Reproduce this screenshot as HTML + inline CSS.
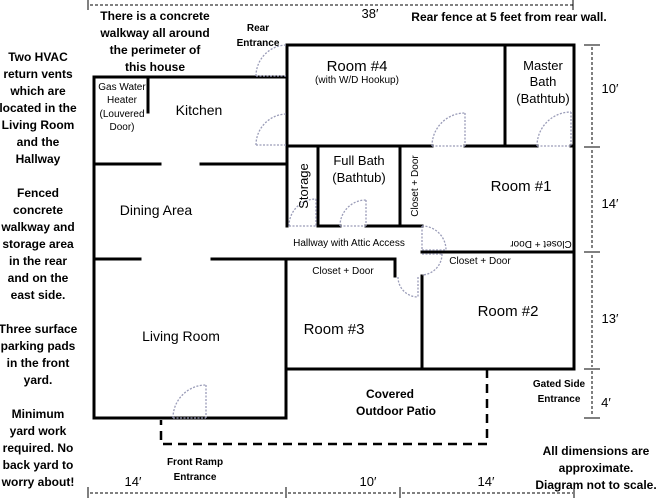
<!DOCTYPE html>
<html><head><meta charset="utf-8"><style>
body{margin:0;background:#fff;width:657px;height:498px;overflow:hidden}
svg{display:block}
text{font-family:"Liberation Sans",sans-serif;fill:#000}
.b{font-weight:bold}
</style></head><body>
<svg width="657" height="498" viewBox="0 0 657 498" xmlns="http://www.w3.org/2000/svg">
<g stroke="#000" stroke-width="3" fill="none" stroke-linecap="square">
<line x1="94" y1="77" x2="287" y2="77"/>
<line x1="94" y1="77" x2="94" y2="418"/>
<line x1="94" y1="418" x2="286" y2="418"/>
<line x1="148" y1="77" x2="148" y2="112"/>
<line x1="94" y1="164" x2="160" y2="164"/>
<line x1="201" y1="164" x2="287" y2="164"/>
<line x1="94" y1="259" x2="140" y2="259"/>
<line x1="212" y1="259" x2="395" y2="259"/>
<line x1="395" y1="259" x2="395" y2="276"/>
<line x1="287" y1="45" x2="287" y2="226"/>
<line x1="286" y1="259" x2="286" y2="418"/>
<line x1="287" y1="45" x2="574" y2="45"/>
<line x1="574" y1="45" x2="574" y2="369"/>
<line x1="505" y1="45" x2="505" y2="146"/>
<line x1="287" y1="146" x2="432" y2="146"/>
<line x1="465" y1="146" x2="537" y2="146"/>
<line x1="571" y1="146" x2="574" y2="146"/>
<line x1="318" y1="146" x2="318" y2="226"/>
<line x1="400" y1="146" x2="400" y2="226"/>
<line x1="318" y1="226" x2="340" y2="226"/>
<line x1="366" y1="226" x2="422" y2="226"/>
<line x1="422" y1="252" x2="574" y2="252"/>
<line x1="422" y1="276" x2="422" y2="369"/>
<line x1="286" y1="369" x2="574" y2="369"/>
</g>
<g stroke="#000" stroke-width="2.5" fill="none" stroke-dasharray="9,6">
<polyline points="487,369 487,444 161,444 161,420"/>
</g>
<g stroke="#9a9cb8" stroke-width="1.3" fill="none" stroke-dasharray="2,1.5">
<path d="M256,76 A31,31 0 0 1 287,45"/><line x1="256" y1="76" x2="287" y2="76"/>
<path d="M256,145 A31,31 0 0 1 287,114"/><line x1="256" y1="145" x2="287" y2="145"/>
<path d="M289,226 A27,27 0 0 1 316,199"/><line x1="289" y1="226" x2="316" y2="226"/><line x1="316" y1="199" x2="316" y2="226"/>
<path d="M340,226 A26,26 0 0 1 366,200"/><line x1="340" y1="226" x2="366" y2="226"/><line x1="366" y1="200" x2="366" y2="226"/>
<path d="M432,146 A33,33 0 0 1 465,113"/><line x1="432" y1="146" x2="465" y2="146"/><line x1="465" y1="113" x2="465" y2="146"/>
<path d="M537,146 A34,34 0 0 1 571,112"/><line x1="537" y1="146" x2="571" y2="146"/><line x1="571" y1="112" x2="571" y2="146"/>
<path d="M422,226 A24,24 0 0 1 446,250"/><line x1="422" y1="226" x2="422" y2="250"/><line x1="422" y1="250" x2="446" y2="250"/>
<path d="M442,254 A21,21 0 0 1 422,275"/><line x1="422" y1="254" x2="442" y2="254"/>
<path d="M398,277 A20,20 0 0 0 418,297"/><line x1="418" y1="277" x2="418" y2="297"/>
<path d="M173,418 A33,33 0 0 1 206,385"/><line x1="206" y1="385" x2="206" y2="418"/><line x1="173" y1="418" x2="206" y2="418"/>
</g>
<g stroke="#000" stroke-width="1" fill="none" stroke-dasharray="3,2">
<line x1="90" y1="5" x2="573" y2="5"/>
<line x1="592" y1="47" x2="592" y2="144"/>
<line x1="592" y1="150" x2="592" y2="250"/>
<line x1="592" y1="255" x2="592" y2="367"/>
<line x1="592" y1="371" x2="592" y2="416"/>
<line x1="90" y1="493" x2="284" y2="493"/>
<line x1="288" y1="493" x2="398" y2="493"/>
<line x1="402" y1="493" x2="573" y2="493"/>
</g>
<g stroke="#000" stroke-width="1">
<line x1="88" y1="0" x2="88" y2="10"/><line x1="573" y1="0" x2="573" y2="10"/>
<line x1="584" y1="45" x2="600" y2="45"/><line x1="584" y1="147" x2="600" y2="147"/>
<line x1="584" y1="252" x2="600" y2="252"/><line x1="584" y1="369" x2="600" y2="369"/>
<line x1="584" y1="418" x2="600" y2="418"/>
<line x1="88" y1="487" x2="88" y2="498"/><line x1="286" y1="487" x2="286" y2="498"/>
<line x1="400" y1="487" x2="400" y2="498"/><line x1="574" y1="487" x2="574" y2="498"/>
</g>
<g font-size="12" text-anchor="middle" class="b">
<text x="38" y="61" class="b">Two HVAC</text>
<text x="38" y="78" class="b">return vents</text>
<text x="38" y="95" class="b">which are</text>
<text x="38" y="112" class="b">located in the</text>
<text x="38" y="129" class="b">Living Room</text>
<text x="38" y="146" class="b">and the</text>
<text x="38" y="163" class="b">Hallway</text>
<text x="38" y="197" class="b">Fenced</text>
<text x="38" y="214" class="b">concrete</text>
<text x="38" y="231" class="b">walkway and</text>
<text x="38" y="248" class="b">storage area</text>
<text x="38" y="265" class="b">in the rear</text>
<text x="38" y="282" class="b">and on the</text>
<text x="38" y="299" class="b">east side.</text>
<text x="38" y="333" class="b">Three surface</text>
<text x="38" y="350" class="b">parking pads</text>
<text x="38" y="367" class="b">in the front</text>
<text x="38" y="384" class="b">yard.</text>
<text x="38" y="418" class="b">Minimum</text>
<text x="38" y="435" class="b">yard work</text>
<text x="38" y="452" class="b">required. No</text>
<text x="38" y="469" class="b">back yard to</text>
<text x="38" y="486" class="b">worry about!</text>
<text x="155" y="20" class="b">There is a concrete</text>
<text x="155" y="37" class="b">walkway all around</text>
<text x="155" y="54" class="b">the perimeter of</text>
<text x="155" y="71" class="b">this house</text>
<text x="509" y="21" class="b">Rear fence at 5 feet from rear wall.</text>
<text x="390" y="398" class="b">Covered</text>
<text x="396" y="415" class="b">Outdoor Patio</text>
<text x="596" y="455" class="b">All dimensions are</text>
<text x="596" y="472" class="b">approximate.</text>
<text x="596" y="489" class="b">Diagram not to scale.</text>
</g>
<g font-size="10" text-anchor="middle" class="b">
<text x="258" y="31" class="b">Rear</text>
<text x="258" y="46" class="b">Entrance</text>
<text x="559" y="387" class="b">Gated Side</text>
<text x="559" y="402" class="b">Entrance</text>
<text x="195" y="465" class="b">Front Ramp</text>
<text x="195" y="480" class="b">Entrance</text>
</g>
<g font-size="10" text-anchor="middle">
<text x="122" y="90">Gas Water</text>
<text x="122" y="103">Heater</text>
<text x="122" y="117">(Louvered</text>
<text x="122" y="130">Door)</text>
<text x="357" y="83">(with W/D Hookup)</text>
<text x="349" y="246">Hallway with Attic Access</text>
<text x="480" y="264">Closet + Door</text>
<text x="343" y="274">Closet + Door</text>
<text transform="translate(541,241) rotate(180)">Closet + Door</text>
<text transform="translate(418,186) rotate(-90)">Closet + Door</text>
</g>
<g font-size="14" text-anchor="middle">
<text x="199" y="115">Kitchen</text>
<text x="156" y="215">Dining Area</text>
<text x="181" y="341">Living Room</text>
<text x="357" y="71" font-size="15">Room #4</text>
<text x="543" y="70" font-size="13">Master</text>
<text x="543" y="86" font-size="13">Bath</text>
<text x="543" y="103" font-size="13">(Bathtub)</text>
<text x="359" y="165" font-size="13">Full Bath</text>
<text x="359" y="182" font-size="13">(Bathtub)</text>
<text transform="translate(308,186) rotate(-90)" font-size="13">Storage</text>
<text x="521" y="191" font-size="15">Room #1</text>
<text x="508" y="316" font-size="15">Room #2</text>
<text x="334" y="334" font-size="15">Room #3</text>
<text x="370" y="18" font-size="13">38′</text>
<text x="610" y="93" font-size="13">10′</text>
<text x="610" y="208" font-size="13">14′</text>
<text x="610" y="323" font-size="13">13′</text>
<text x="606" y="407" font-size="13">4′</text>
<text x="133" y="486" font-size="13">14′</text>
<text x="368" y="486" font-size="13">10′</text>
<text x="486" y="486" font-size="13">14′</text>
</g>
</svg>
</body></html>
